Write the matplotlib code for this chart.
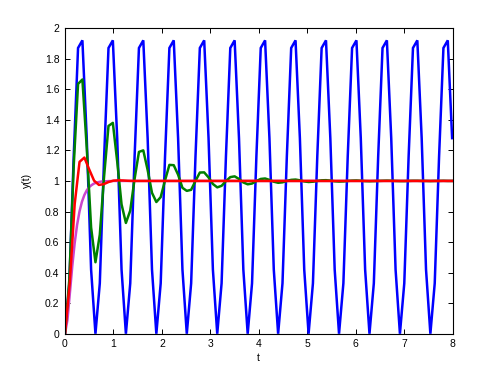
import numpy as np
import matplotlib
matplotlib.use("Agg")
import matplotlib.pyplot as plt

# ---------------- data ----------------
dt_osc = 0.0898  # sample step of blue and green responses
blue_y = [
    0.00, 0.33, 1.16, 1.87, 1.92, 1.28, 0.42,
    0.00, 0.33, 1.16, 1.87, 1.92, 1.28, 0.42,
    0.00, 0.33, 1.16, 1.87, 1.92, 1.28, 0.42,
    0.00, 0.33, 1.16, 1.87, 1.92, 1.28, 0.42,
    0.00, 0.33, 1.16, 1.87, 1.92, 1.28, 0.42,
    0.00, 0.33, 1.16, 1.87, 1.92, 1.28, 0.42,
    0.00, 0.33, 1.16, 1.87, 1.92, 1.28, 0.42,
    0.00, 0.33, 1.16, 1.87, 1.92, 1.28, 0.42,
    0.00, 0.33, 1.16, 1.87, 1.92, 1.28, 0.42,
    0.00, 0.33, 1.16, 1.87, 1.92, 1.28, 0.42,
    0.00, 0.33, 1.16, 1.87, 1.92, 1.28, 0.42,
    0.00, 0.33, 1.16, 1.87, 1.92, 1.28, 0.42,
    0.00, 0.33, 1.16, 1.87, 1.92, 1.28,
]
green_y = [
    0.000, 0.356, 1.097, 1.635, 1.664, 1.217, 0.696, 0.468, 0.648, 1.035,
    1.360, 1.380, 1.128, 0.847, 0.725, 0.806, 1.014, 1.190, 1.200, 1.072,
    0.922, 0.862, 0.894, 1.004, 1.105, 1.103, 1.041, 0.955, 0.935, 0.942,
    1.000, 1.055, 1.056, 1.023, 0.980, 0.958, 0.968, 0.999, 1.025, 1.030,
    1.013, 0.990, 0.978, 0.983, 0.999, 1.013, 1.016, 1.007, 0.995, 0.988,
    0.991, 1.000, 1.007, 1.009, 1.004, 0.997, 0.993, 0.995, 1.000, 1.004,
    1.005, 1.002, 0.998, 0.996, 0.997, 1.000, 1.002, 1.003, 1.001, 0.999,
    0.998, 0.999, 1.000, 1.001, 1.002, 1.001, 1.000, 0.999, 0.999, 1.000,
    1.001, 1.001, 1.000, 1.000, 0.999, 1.000, 1.000, 1.001, 1.000, 1.000,
]
red_t = [0.0, 0.1, 0.2, 0.3, 0.4, 0.5, 0.6, 0.7, 0.8, 0.9, 1.0, 1.1, 1.2, 1.3, 1.4, 8.0]
red_y = [0.000, 0.340, 0.849, 1.125, 1.153, 1.075, 1.002, 0.974, 0.979, 0.993,
         1.002, 1.004, 1.003, 1.001, 1.000, 1.000]
mag_t = [0.0, 0.05, 0.10, 0.15, 0.20, 0.25, 0.30, 0.35, 0.40, 0.45, 0.50,
         0.55, 0.60, 0.65, 0.70, 0.75, 0.80, 0.85, 0.90, 0.95, 1.00, 8.0]
mag_y = [0.000, 0.090, 0.264, 0.442, 0.594, 0.713, 0.801, 0.864, 0.908, 0.939,
         0.960, 0.973, 0.983, 0.989, 0.993, 0.996, 0.997, 0.998, 0.999, 0.999,
         1.000, 1.000]
x_ticks = [0, 1, 2, 3, 4, 5, 6, 7, 8]
y_ticks = [0, 0.2, 0.4, 0.6, 0.8, 1, 1.2, 1.4, 1.6, 1.8, 2]
y_ticklabels = ["0", "0.2", "0.4", "0.6", "0.8", "1", "1.2", "1.4", "1.6", "1.8", "2"]

blue_t = np.arange(len(blue_y)) * dt_osc
green_t = np.arange(len(green_y)) * dt_osc

# ---------------- plot ----------------
plt.rcParams['font.family'] = ['Liberation Sans', 'DejaVu Sans']
fig = plt.figure(figsize=(5, 3.75), dpi=100)
fig.patch.set_facecolor('white')
ax = fig.add_axes([0.13, 0.11, 0.775, 0.815])

lw = 1.8
ax.plot(blue_t, blue_y, color='#0000ff', lw=lw, solid_joinstyle='miter')
ax.plot(mag_t, mag_y, color='#cc44cc', lw=lw)
ax.plot(green_t, green_y, color='#008000', lw=lw)
ax.plot(red_t, red_y, color='#ff0000', lw=lw)

ax.set_xlim(0, 8)
ax.set_ylim(0, 2)
ax.set_xticks(x_ticks)
ax.set_yticks(y_ticks)
ax.set_yticklabels(y_ticklabels)
ax.tick_params(direction='in', length=3.5, width=0.7, labelsize=7.5,
               top=True, right=True, pad=4)
for s in ax.spines.values():
    s.set_linewidth(0.8)
ax.set_xlabel('t', fontsize=7.5, labelpad=3)
ax.set_ylabel('y(t)', fontsize=7.5, labelpad=9)

fig.savefig('out.png', dpi=100)
